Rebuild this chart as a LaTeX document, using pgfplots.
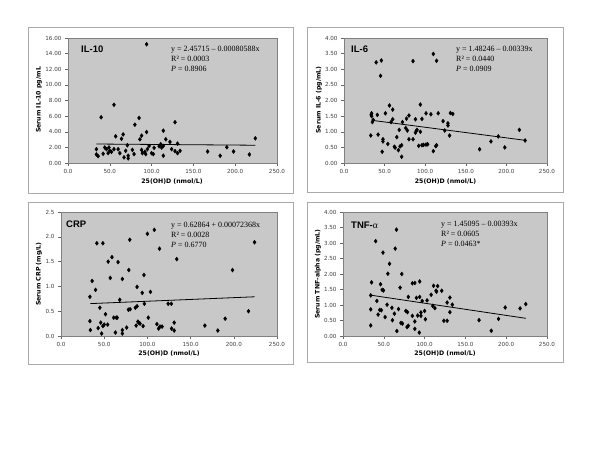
\documentclass[border=0pt]{standalone}
\usepackage{fontspec}
\setmainfont{Liberation Serif}
\newfontfamily\verdana{DejaVu Sans}
\newfontfamily\arial{Liberation Sans}
\usepackage{pgfplots}
\pgfplotsset{compat=1.18}
\definecolor{plotgray}{RGB}{200,200,200}
\definecolor{framegray}{RGB}{170,170,170}
\pgfplotsset{panel/.style={
  scale only axis, anchor=south west,
  xmin=0, xmax=250, xtick={0,50,100,150,200,250},
  tick align=outside, major tick length=3pt,
  xtick pos=left, ytick pos=left,
  axis background/.style={fill=plotgray},
  axis line style={draw=black!50},
  tick style={draw=black!60, line width=0.4pt},
  /pgf/number format/assume math mode=true,
  tick label style={font=\verdana\fontsize{5.6}{6}\selectfont, text=black!75},
  xticklabel style={/pgf/number format/.cd, fixed, fixed zerofill, precision=1},
  yticklabel style={/pgf/number format/.cd, fixed, fixed zerofill, precision=2},
  scaled ticks=false,
  clip=false,
}}
\pgfplotsset{pts/.style={only marks, mark=diamond*, mark size=2pt, black, mark options={fill=black}}}
\pgfplotsset{reg/.style={no marks, black, line width=0.8pt}}
\newcommand{\labfont}{\verdana\bfseries\fontsize{6.2}{7}\selectfont}
\newcommand{\titfont}{\arial\bfseries\fontsize{9.5}{11}\selectfont}
\newcommand{\eqfont}{\fontsize{8}{10}\selectfont}
\begin{document}
\begin{tikzpicture}
\path (0pt,0pt) rectangle (600pt,-450pt);
% frames
\draw[framegray, fill=white] (28pt,-27pt) rectangle (293pt,-193pt);
\draw[framegray, fill=white] (307pt,-27pt) rectangle (563pt,-192pt);
\draw[framegray, fill=white] (28pt,-202pt) rectangle (293pt,-364pt);
\draw[framegray, fill=white] (307pt,-202pt) rectangle (563pt,-362pt);

% IL-10
\begin{axis}[panel, at={(68pt,-163pt)}, width=209pt, height=125pt,
  ymin=0, ymax=16, ytick={0,2,4,6,8,10,12,14,16}]
\addplot[pts] coordinates {(94,15.2)(39.6,5.85)(55,7.45)(85,5.77)(80,4.9)(94,3.96)(114,4.13)(128,5.22)(57,3.41)(66,3.66)(64,3.1)(88,3.5)(86,3.03)(117,3.03)(122,2.7)(131,2.48)(224,3.16)(190,2.02)(198,1.47)(167,1.47)(182,0.93)(217,1.09)(34,1.77)(34,1.1)(36,0.88)(42,1.18)(44,1.98)(46,1.77)(48,1.26)(49,1.98)(50,1.56)(52,1.43)(55,1.77)(60,1.77)(62,1.26)(67,0.72)(69,1.56)(71,2.27)(72,0.93)(72,0.59)(77,1.68)(79,1.14)(88,1.68)(89,1.26)(92,1.43)(93,1.14)(95,1.77)(97,2.19)(100,1.26)(102,1.14)(103,1.94)(109,2.15)(111,2.4)(112,1.98)(114,0.93)(114,2.19)(124,1.77)(128,1.52)(131,1.26)(134,1.56)};
\addplot[reg] coordinates {(34,2.4298)(224,2.2766)};
\end{axis}

% IL-6
\begin{axis}[panel, at={(344pt,-163pt)}, width=203pt, height=125pt,
  ymin=0, ymax=4, ytick={0,0.5,1,1.5,2,2.5,3,3.5,4}]
\addplot[pts] coordinates {(39.6,3.22)(46,3.28)(45,2.79)(85,3.26)(110,3.49)(114,3.27)(33.5,1.54)(34,1.50)(34,1.59)(35,1.31)(36,1.38)(33,0.88)(41,1.54)(42,0.91)(48,0.76)(48,0.69)(47,0.36)(51,1.59)(54,0.61)(56,1.84)(58,1.31)(60,1.71)(60,1.40)(62,0.52)(63,0.49)(65,0.83)(67,0.41)(68,1.06)(69,0.53)(71,0.57)(72,1.31)(71,0.2)(76,1.12)(77,1.42)(78,1.04)(80,1.52)(80,0.76)(85,0.76)(88,0.97)(88,1.40)(89,1.03)(90,1.06)(92,0.55)(94,1.87)(94,1.0)(96,1.41)(96,0.57)(98,0.58)(101,0.59)(103,0.6)(101,1.59)(107,1.56)(110,0.38)(113,0.54)(114,0.57)(116,1.59)(122,1.34)(124,1.04)(128,1.27)(128,1.2)(130,0.88)(131,1.6)(134,1.57)(167,0.44)(181,0.69)(190,0.85)(198,0.5)(216,1.06)(223,0.72)};
\addplot[reg] coordinates {(34,1.3672)(223,0.7265)};
\end{axis}

% CRP
\begin{axis}[panel, at={(61pt,-336pt)}, width=216pt, height=124pt,
  ymin=0, ymax=2.5, ytick={0,0.5,1,1.5,2,2.5},
  yticklabel style={/pgf/number format/.cd, fixed, fixed zerofill, precision=1}]
\addplot[pts] coordinates {(33.5,0.79)(33.5,0.30)(34,0.12)(36,1.11)(40,0.93)(41.5,1.87)(48.5,1.87)(45,0.57)(46,0.27)(43,0.16)(47,0.05)(48.5,0.2)(50,0.23)(51.5,0.44)(54.6,1.5)(54,0.23)(57,1.17)(59,1.59)(61,0.37)(64,0.37)(66,1.49)(65,0.37)(63,0.07)(68,0.73)(71,1.15)(71,0.12)(71,0.05)(76,0.17)(78.5,1.33)(78,0.53)(80,0.54)(79.6,1.94)(86,0.57)(87,0.21)(88,0.99)(88,0.6)(89,0.29)(90,0.27)(91.5,0.25)(94,0.87)(96,1.23)(95,0.2)(96.5,0.65)(100,2.06)(101,0.37)(103.5,0.89)(108,2.14)(111,0.24)(114,1.76)(113,0.15)(114.6,0.19)(117,0.19)(124,0.65)(127.7,0.65)(128,0.15)(131,0.27)(131,0.11)(134,1.55)(166.5,0.21)(181.5,0.11)(190,0.35)(198.5,1.33)(217,0.5)(224,1.89)};
\addplot[reg] coordinates {(34,0.6532)(224,0.7907)};
\end{axis}

% TNF
\begin{axis}[panel, at={(343pt,-336pt)}, width=204pt, height=124pt,
  ymin=0, ymax=4, ytick={0,0.5,1,1.5,2,2.5,3,3.5,4}]
\addplot[pts] coordinates {(34,0.34)(34,0.86)(34,1.31)(35,1.73)(40,3.06)(41.5,1.13)(43,0.69)(45,0.84)(46,1.67)(47,0.83)(48,1.49)(49.6,1.47)(49,2.69)(51.6,0.61)(55,2.01)(54,1.01)(57,2.33)(60,0.91)(60.6,0.51)(63,0.72)(64,2.82)(65.5,3.43)(66,0.16)(68,0.87)(70,1.56)(71,0.42)(72,2.0)(72.8,0.4)(77,0.81)(78.5,0.29)(79,0.77)(80,1.26)(80,0.33)(85,0.65)(85,1.70)(88,1.71)(88,0.47)(88,0.23)(90,1.23)(91.5,0.66)(94,1.76)(93.5,0.11)(94,1.26)(95.5,0.76)(95.5,0.65)(97,1.13)(100,0.81)(101,0.54)(103,1.15)(108,1.33)(110,0.97)(111,1.62)(112.6,0.90)(114,1.46)(114.6,1.43)(116,1.61)(121,1.46)(123.6,0.49)(127.6,0.49)(127.6,1.08)(131,1.24)(131,0.77)(134,1.01)(166.7,0.51)(181.7,0.17)(190.6,0.55)(198.8,0.92)(217,0.89)(224,1.03)};
\addplot[reg] coordinates {(34,1.3173)(224,0.5706)};
\end{axis}

% axis labels
\node[rotate=90, font=\labfont] at (39pt,-100pt) {Serum IL-10 pg/mL};
\node[rotate=90, font=\labfont] at (319pt,-100pt) {Serum IL-6 (pg/mL)};
\node[rotate=90, font=\labfont] at (39pt,-274pt) {Serum CRP (mg/L)};
\node[rotate=90, font=\labfont] at (318pt,-274pt) {Serum TNF-alpha (pg/mL)};
\node[font=\labfont] at (172pt,-182pt) {25(OH)D (nmol/L)};
\node[font=\labfont] at (445.5pt,-182pt) {25(OH)D (nmol/L)};
\node[font=\labfont] at (169pt,-354pt) {25(OH)D (nmol/L)};
\node[font=\labfont] at (445pt,-354pt) {25(OH)D (nmol/L)};

% titles
\node[font=\titfont, anchor=base west, inner sep=0pt] at (81pt,-52.5pt) {IL-10};
\node[font=\titfont, anchor=base west, inner sep=0pt] at (351pt,-52.5pt) {IL-6};
\node[font=\titfont, anchor=base west, inner sep=0pt] at (66pt,-227.5pt) {CRP};
\node[font=\titfont, anchor=base west, inner sep=0pt] at (351pt,-228.5pt) {TNF-{\rmfamily\mdseries α}};

% equations
\node[font=\eqfont, anchor=base west, inner sep=0pt] at (171pt,-51pt) {y = 2.45715 – 0.00080588x};
\node[font=\eqfont, anchor=base west, inner sep=0pt] at (171pt,-61pt) {R² = 0.0003};
\node[font=\eqfont, anchor=base west, inner sep=0pt] at (171pt,-71pt) {\textit{P} = 0.8906};

\node[font=\eqfont, anchor=base west, inner sep=0pt] at (456pt,-51pt) {y = 1.48246 – 0.00339x};
\node[font=\eqfont, anchor=base west, inner sep=0pt] at (456pt,-61pt) {R² = 0.0440};
\node[font=\eqfont, anchor=base west, inner sep=0pt] at (456pt,-71pt) {\textit{P} = 0.0909};

\node[font=\eqfont, anchor=base west, inner sep=0pt] at (171pt,-227pt) {y = 0.62864 + 0.00072368x};
\node[font=\eqfont, anchor=base west, inner sep=0pt] at (171pt,-237pt) {R² = 0.0028};
\node[font=\eqfont, anchor=base west, inner sep=0pt] at (171pt,-247pt) {\textit{P} = 0.6770};

\node[font=\eqfont, anchor=base west, inner sep=0pt] at (441pt,-226pt) {y = 1.45095 – 0.00393x};
\node[font=\eqfont, anchor=base west, inner sep=0pt] at (441pt,-236pt) {R² = 0.0605};
\node[font=\eqfont, anchor=base west, inner sep=0pt] at (441pt,-246pt) {\textit{P} = 0.0463*};
\end{tikzpicture}
\end{document}
